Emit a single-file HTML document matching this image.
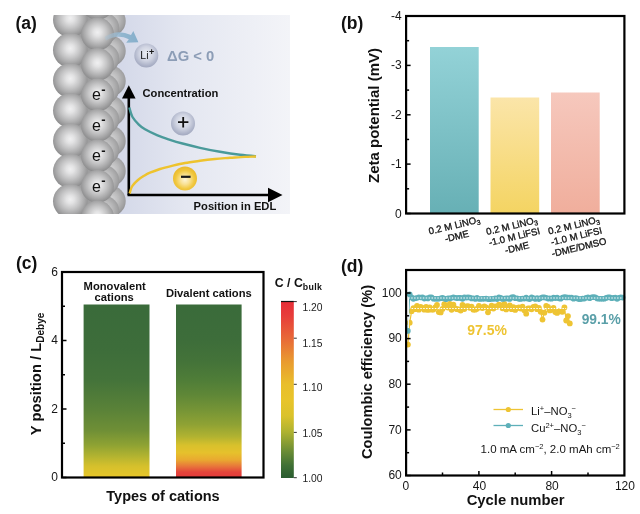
<!DOCTYPE html>
<html lang="en"><head><meta charset="utf-8"><title>Figure</title>
<style>
html,body{margin:0;padding:0;background:#fff;}
body{width:640px;height:514px;overflow:hidden;}
svg{display:block;font-family:"Liberation Sans",sans-serif;filter:blur(0.3px);}
.b{font-weight:bold}
.tk{font-size:12px;fill:#161616}
</style></head><body>
<svg width="640" height="514" viewBox="0 0 640 514">
<defs>
<linearGradient id="bgA" x1="0" y1="0" x2="1" y2="0">
<stop offset="0" stop-color="#cfd4e6"/><stop offset="0.45" stop-color="#e4e7f1"/><stop offset="1" stop-color="#f3f4f8"/>
</linearGradient>
<radialGradient id="sph" cx="0.5" cy="0.45" r="0.58">
<stop offset="0" stop-color="#f0f0f1"/><stop offset="0.2" stop-color="#e3e3e4"/><stop offset="0.48" stop-color="#c5c5c6"/><stop offset="0.72" stop-color="#a8a8a9"/><stop offset="0.88" stop-color="#939394"/><stop offset="1" stop-color="#7e7e7f"/>
</radialGradient>
<radialGradient id="sph2" cx="0.5" cy="0.45" r="0.58">
<stop offset="0" stop-color="#d8d8d9"/><stop offset="0.45" stop-color="#bcbcbd"/><stop offset="0.8" stop-color="#a0a0a1"/><stop offset="1" stop-color="#88888a"/>
</radialGradient>
<linearGradient id="arw" x1="0" y1="0" x2="1" y2="0"><stop offset="0" stop-color="#a9c3d6" stop-opacity="0.35"/><stop offset="0.5" stop-color="#92b6cf"/><stop offset="1" stop-color="#86afcb"/></linearGradient>
<radialGradient id="ion" cx="0.5" cy="0.42" r="0.58">
<stop offset="0" stop-color="#eceef4"/><stop offset="0.5" stop-color="#d0d4e2"/><stop offset="0.85" stop-color="#aeb4c9"/><stop offset="1" stop-color="#a2a8bf"/>
</radialGradient>
<radialGradient id="neg" cx="0.5" cy="0.55" r="0.55">
<stop offset="0" stop-color="#fdf4d6"/><stop offset="0.35" stop-color="#f9e296"/><stop offset="0.7" stop-color="#f1c840"/><stop offset="1" stop-color="#e9b82a"/>
</radialGradient>
<linearGradient id="b1" x1="0" y1="0" x2="0" y2="1"><stop offset="0" stop-color="#93d2d7"/><stop offset="1" stop-color="#67b0b5"/></linearGradient>
<linearGradient id="b2" x1="0" y1="0" x2="0" y2="1"><stop offset="0" stop-color="#fbe5a9"/><stop offset="1" stop-color="#f4d462"/></linearGradient>
<linearGradient id="b3" x1="0" y1="0" x2="0" y2="1"><stop offset="0" stop-color="#f6c8bd"/><stop offset="1" stop-color="#f0ae9c"/></linearGradient>
<linearGradient id="cbar" x1="0" y1="1" x2="0" y2="0">
<stop offset="0" stop-color="#2a5c30"/><stop offset="0.07" stop-color="#3f7035"/><stop offset="0.15" stop-color="#6a8c35"/><stop offset="0.26" stop-color="#aeb230"/><stop offset="0.35" stop-color="#dac22b"/><stop offset="0.44" stop-color="#e8c42a"/><stop offset="0.53" stop-color="#e9be2b"/><stop offset="0.66" stop-color="#e99a30"/><stop offset="0.79" stop-color="#e86838"/><stop offset="0.92" stop-color="#e73c3a"/><stop offset="1" stop-color="#e62e38"/>
</linearGradient>
<linearGradient id="c1" x1="0" y1="0" x2="0" y2="1">
<stop offset="0" stop-color="#3a6b3a"/><stop offset="0.25" stop-color="#3d6d3a"/><stop offset="0.436" stop-color="#44733a"/><stop offset="0.608" stop-color="#5a8238"/><stop offset="0.728" stop-color="#6f8f36"/><stop offset="0.812" stop-color="#8ea233"/><stop offset="0.88" stop-color="#b4b430"/><stop offset="0.934" stop-color="#d5c02c"/><stop offset="1" stop-color="#e8c62a"/>
</linearGradient>
<linearGradient id="c2" x1="0" y1="0" x2="0" y2="1">
<stop offset="0" stop-color="#3a6b3a"/><stop offset="0.2" stop-color="#3d6d3a"/><stop offset="0.33" stop-color="#447339"/><stop offset="0.436" stop-color="#4f7d38"/><stop offset="0.522" stop-color="#5f8737"/><stop offset="0.608" stop-color="#759436"/><stop offset="0.694" stop-color="#8fa234"/><stop offset="0.762" stop-color="#b0b231"/><stop offset="0.814" stop-color="#d8c12c"/><stop offset="0.857" stop-color="#e6c12c"/><stop offset="0.899" stop-color="#e9a830"/><stop offset="0.934" stop-color="#e8783a"/><stop offset="0.968" stop-color="#e4453c"/><stop offset="1" stop-color="#e33a3a"/>
</linearGradient>
</defs>
<rect width="640" height="514" fill="#fff"/>

<g id="pa">
<rect x="100" y="15" width="190" height="199" fill="url(#bgA)"/>
<clipPath id="clipA"><rect x="50" y="15" width="240" height="199"/></clipPath>
<g clip-path="url(#clipA)">
<circle cx="83" cy="-3" r="15.5" fill="#9e9e9f"/>
<circle cx="83" cy="27" r="15.5" fill="#9e9e9f"/>
<circle cx="83" cy="57" r="15.5" fill="#9e9e9f"/>
<circle cx="83" cy="87" r="15.5" fill="#9e9e9f"/>
<circle cx="83" cy="117" r="15.5" fill="#9e9e9f"/>
<circle cx="83" cy="147" r="15.5" fill="#9e9e9f"/>
<circle cx="83" cy="177" r="15.5" fill="#9e9e9f"/>
<circle cx="83" cy="207" r="15.5" fill="#9e9e9f"/>
<circle cx="83" cy="237" r="15.5" fill="#9e9e9f"/>
<circle cx="110.500" cy="-9" r="15.2" fill="url(#sph2)"/>
<circle cx="110.500" cy="21" r="15.2" fill="url(#sph2)"/>
<circle cx="110.500" cy="51" r="15.2" fill="url(#sph2)"/>
<circle cx="110.500" cy="81" r="15.2" fill="url(#sph2)"/>
<circle cx="110.500" cy="111" r="15.2" fill="url(#sph2)"/>
<circle cx="110.500" cy="141" r="15.2" fill="url(#sph2)"/>
<circle cx="110.500" cy="171" r="15.2" fill="url(#sph2)"/>
<circle cx="110.500" cy="201" r="15.2" fill="url(#sph2)"/>
<circle cx="110.500" cy="231" r="15.2" fill="url(#sph2)"/>
<circle cx="104" cy="-2.5" r="15.2" fill="url(#sph2)"/>
<circle cx="104" cy="28.0" r="15.2" fill="url(#sph2)"/>
<circle cx="104" cy="58.5" r="15.2" fill="url(#sph2)"/>
<circle cx="104" cy="89.0" r="15.2" fill="url(#sph2)"/>
<circle cx="104" cy="119.5" r="15.2" fill="url(#sph2)"/>
<circle cx="104" cy="150.0" r="15.2" fill="url(#sph2)"/>
<circle cx="104" cy="180.5" r="15.2" fill="url(#sph2)"/>
<circle cx="104" cy="211.0" r="15.2" fill="url(#sph2)"/>
<circle cx="104" cy="241.5" r="15.2" fill="url(#sph2)"/>
<circle cx="70.300" cy="-10.2" r="17.3" fill="url(#sph)"/>
<circle cx="70.300" cy="20.0" r="17.3" fill="url(#sph)"/>
<circle cx="70.300" cy="50.2" r="17.3" fill="url(#sph)"/>
<circle cx="70.300" cy="80.4" r="17.3" fill="url(#sph)"/>
<circle cx="70.300" cy="110.6" r="17.3" fill="url(#sph)"/>
<circle cx="70.300" cy="140.8" r="17.3" fill="url(#sph)"/>
<circle cx="70.300" cy="171.0" r="17.3" fill="url(#sph)"/>
<circle cx="70.300" cy="201.2" r="17.3" fill="url(#sph)"/>
<circle cx="70.300" cy="231.4" r="17.3" fill="url(#sph)"/>
<circle cx="97.500" cy="3.5" r="16.4" fill="url(#sph)"/>
<circle cx="97.500" cy="34.0" r="16.4" fill="url(#sph)"/>
<circle cx="97.500" cy="64.5" r="16.4" fill="url(#sph)"/>
<circle cx="97.500" cy="95.0" r="16.4" fill="url(#sph)"/>
<circle cx="97.500" cy="125.5" r="16.4" fill="url(#sph)"/>
<circle cx="97.500" cy="156.0" r="16.4" fill="url(#sph)"/>
<circle cx="97.500" cy="186.5" r="16.4" fill="url(#sph)"/>
<circle cx="97.500" cy="217.0" r="16.4" fill="url(#sph)"/>
<circle cx="97.500" cy="247.5" r="16.4" fill="url(#sph)"/>
</g>
<text x="92" y="100" font-size="16" fill="#111">e<tspan dy="-6.500" dx="0.3" font-size="13" class="b">-</tspan></text>
<text x="92" y="130.7" font-size="16" fill="#111">e<tspan dy="-6.500" dx="0.3" font-size="13" class="b">-</tspan></text>
<text x="92" y="161" font-size="16" fill="#111">e<tspan dy="-6.500" dx="0.3" font-size="13" class="b">-</tspan></text>
<text x="92" y="191.5" font-size="16" fill="#111">e<tspan dy="-6.500" dx="0.3" font-size="13" class="b">-</tspan></text>
<path d="M104.500 37 Q117 28.500 131 35 L133.300 31 L138.400 42.300 L126.200 42.800 L128.800 39.200 Q117.500 33.800 106 40.500 Z" fill="url(#arw)"/>
<circle cx="146.300" cy="55.500" r="12" fill="url(#ion)"/>
<text x="140.300" y="59.200" font-size="10.500" fill="#161616">Li<tspan dy="-4" dx="0.5" font-size="9" class="b">+</tspan></text>
<text x="167" y="61" font-size="14.800" class="b" fill="#8c9db6">ΔG &lt; 0</text>
<path d="M128.800 195 V96" stroke="#000" stroke-width="2.6" fill="none"/>
<path d="M122 98.500 L128.800 85.300 L135.600 98.500 Z" fill="#000"/>
<path d="M127.500 195 H270" stroke="#000" stroke-width="2.5" fill="none"/>
<path d="M268 187.700 L282.500 195 L268 202.300 Z" fill="#000"/>
<text x="142.500" y="97" font-size="11.200" class="b" fill="#111">Concentration</text>
<text x="193.600" y="210.300" font-size="11.200" class="b" fill="#111">Position in EDL</text>
<path d="M129.3 107.5 C129.8 109.1 130.9 114.2 132.5 117.0 C134.1 119.8 136.7 122.5 138.8 124.6 C140.8 126.6 141.9 127.5 145.0 129.3 C148.1 131.1 153.3 133.6 157.5 135.3 C161.7 137.1 165.8 138.4 170.0 139.8 C174.2 141.2 177.5 142.2 182.5 143.5 C187.5 144.8 193.8 146.4 200.0 147.8 C206.2 149.2 213.3 150.6 220.0 151.8 C226.7 153.0 234.0 154.1 240.0 154.8 C246.0 155.6 253.3 156.1 256.0 156.3" stroke="#4a9a9a" stroke-width="2.4" fill="none"/>
<path d="M129.6 193.5 C130.0 192.3 130.6 188.8 132.0 186.5 C133.4 184.2 136.0 181.8 138.0 180.0 C140.0 178.2 142.0 177.0 144.0 175.8 C146.0 174.6 147.3 173.8 150.0 172.7 C152.7 171.6 156.3 170.2 160.0 169.0 C163.7 167.8 167.8 166.8 172.0 165.8 C176.2 164.8 180.3 163.8 185.0 163.0 C189.7 162.2 195.0 161.5 200.0 160.8 C205.0 160.1 210.0 159.5 215.0 159.0 C220.0 158.5 225.0 158.2 230.0 157.8 C235.0 157.5 240.7 157.1 245.0 156.9 C249.3 156.7 254.2 156.6 256.0 156.5" stroke="#eec32e" stroke-width="2.4" fill="none"/>
<circle cx="183" cy="123.600" r="12" fill="url(#ion)"/>
<path d="M178 122.200 H188.400 M183.200 117 V127.400" stroke="#111" stroke-width="1.8"/>
<circle cx="185" cy="178.500" r="12" fill="url(#neg)"/>
<path d="M181 176.800 H190.600" stroke="#1a1a1a" stroke-width="2.2"/>
<text x="15.500" y="28.500" font-size="17.500" class="b" fill="#111">(a)</text>
</g>
<g id="pb">
<rect x="430" y="47" width="48.700" height="166.500" fill="url(#b1)"/>
<rect x="490.500" y="97.500" width="48.700" height="116" fill="url(#b2)"/>
<rect x="551" y="92.500" width="48.700" height="121" fill="url(#b3)"/>
<rect x="406.100" y="16" width="218.300" height="197.500" fill="none" stroke="#000" stroke-width="2.2"/>
<path d="M406.600 16 h4" stroke="#000" stroke-width="1.5"/>
<text x="401.600" y="20" text-anchor="end" class="tk">-4</text>
<path d="M406.600 65.4 h4" stroke="#000" stroke-width="1.5"/>
<text x="401.600" y="69.4" text-anchor="end" class="tk">-3</text>
<path d="M406.600 114.8 h4" stroke="#000" stroke-width="1.5"/>
<text x="401.600" y="118.8" text-anchor="end" class="tk">-2</text>
<path d="M406.600 164.1 h4" stroke="#000" stroke-width="1.5"/>
<text x="401.600" y="168.1" text-anchor="end" class="tk">-1</text>
<path d="M406.600 213.5 h4" stroke="#000" stroke-width="1.5"/>
<text x="401.600" y="217.5" text-anchor="end" class="tk">0</text>
<path d="M406.600 40.7 h2.500" stroke="#000" stroke-width="1.5"/>
<path d="M406.600 90.1 h2.500" stroke="#000" stroke-width="1.5"/>
<path d="M406.600 139.45 h2.500" stroke="#000" stroke-width="1.5"/>
<path d="M406.600 188.8 h2.500" stroke="#000" stroke-width="1.5"/>
<text transform="translate(378.500 115.500) rotate(-90)" text-anchor="middle" font-size="15" class="b" fill="#111">Zeta potential (mV)</text>
<g transform="translate(455 228.5) rotate(-13.5)" font-size="9.600" fill="#111" stroke="#111" stroke-width="0.3" text-anchor="middle">
<text x="0" y="0.0">0.2 M LiNO<tspan dy="2" font-size="7">3</tspan></text>
<text x="0" y="11.3">-DME</text>
</g>
<g transform="translate(512.5 229) rotate(-13.5)" font-size="9.600" fill="#111" stroke="#111" stroke-width="0.3" text-anchor="middle">
<text x="0" y="0.0">0.2 M LiNO<tspan dy="2" font-size="7">3</tspan></text>
<text x="0" y="11.3">-1.0 M LiFSI</text>
<text x="0" y="22.6">-DME</text>
</g>
<g transform="translate(574.5 228.5) rotate(-13.5)" font-size="9.600" fill="#111" stroke="#111" stroke-width="0.3" text-anchor="middle">
<text x="0" y="0.0">0.2 M LiNO<tspan dy="2" font-size="7">3</tspan></text>
<text x="0" y="11.3">-1.0 M LiFSI</text>
<text x="0" y="22.6">-DME/DMSO</text>
</g>
<text x="341" y="29.200" font-size="17.500" class="b" fill="#111">(b)</text>
</g>
<g id="pc">
<rect x="83.600" y="304.500" width="65.900" height="173" fill="url(#c1)"/>
<rect x="176" y="304.500" width="65.600" height="173" fill="url(#c2)"/>
<rect x="62" y="272" width="201.500" height="205.500" fill="none" stroke="#000" stroke-width="2.2"/>
<path d="M62.500 272 h4" stroke="#000" stroke-width="1.5"/>
<text x="58" y="275.9" text-anchor="end" class="tk">6</text>
<path d="M62.500 340.5 h4" stroke="#000" stroke-width="1.5"/>
<text x="58" y="344.4" text-anchor="end" class="tk">4</text>
<path d="M62.500 409 h4" stroke="#000" stroke-width="1.5"/>
<text x="58" y="412.9" text-anchor="end" class="tk">2</text>
<path d="M62.500 477.5 h4" stroke="#000" stroke-width="1.5"/>
<text x="58" y="481.4" text-anchor="end" class="tk">0</text>
<path d="M62.500 306.25 h2.500" stroke="#000" stroke-width="1.5"/>
<path d="M62.500 374.75 h2.500" stroke="#000" stroke-width="1.5"/>
<path d="M62.500 443.25 h2.500" stroke="#000" stroke-width="1.5"/>
<text x="114.700" y="289.800" text-anchor="middle" font-size="11.200" class="b" fill="#111">Monovalent</text>
<text x="114.200" y="300.800" text-anchor="middle" font-size="11.200" class="b" fill="#111">cations</text>
<text x="208.800" y="296.500" text-anchor="middle" font-size="11.200" class="b" fill="#111">Divalent cations</text>
<text transform="translate(41 374) rotate(-90)" text-anchor="middle" font-size="14.800" class="b" fill="#111">Y position / L<tspan dy="3" font-size="10">Debye</tspan></text>
<text x="163" y="501" text-anchor="middle" font-size="14.500" class="b" fill="#111">Types of cations</text>
<rect x="281" y="301" width="12.800" height="177" fill="url(#cbar)"/>
<path d="M281 301.500 h12.800" stroke="#111" stroke-width="1.2"/>
<path d="M293.800 477.7 h3" stroke="#333" stroke-width="1"/>
<text x="302.500" y="482.2" font-size="10.300" fill="#222">1.00</text>
<path d="M293.800 432.4 h3" stroke="#333" stroke-width="1"/>
<text x="302.500" y="436.9" font-size="10.300" fill="#222">1.05</text>
<path d="M293.800 384.3 h3" stroke="#333" stroke-width="1"/>
<text x="302.500" y="391.2" font-size="10.300" fill="#222">1.10</text>
<path d="M293.800 338.2 h3" stroke="#333" stroke-width="1"/>
<text x="302.500" y="347.0" font-size="10.300" fill="#222">1.15</text>
<path d="M293.800 301.6 h3" stroke="#333" stroke-width="1"/>
<text x="302.500" y="311.1" font-size="10.300" fill="#222">1.20</text>
<text x="274.800" y="286.500" font-size="12.300" class="b" fill="#111">C / C<tspan dy="3" font-size="8.800" letter-spacing="0.3">bulk</tspan></text>
<text x="16" y="268.800" font-size="17.500" class="b" fill="#111">(c)</text>
</g>
<g id="pd">
<polyline fill="none" stroke="#eec433" stroke-width="1.2" points="407.9,344.6 409.7,322.7 411.6,311.2 413.4,308.1 415.2,309.2 417.0,306.0 418.8,309.7 420.7,306.8 422.5,307.8 424.3,309.7 426.1,306.9 427.9,309.9 429.7,307.4 431.6,309.7 433.4,309.5 435.2,307.5 437.0,304.9 438.8,312.1 440.7,312.4 442.5,308.9 444.3,304.2 446.1,306.5 447.9,307.6 449.8,304.0 451.6,309.8 453.4,304.7 455.2,308.3 457.0,309.2 458.9,309.4 460.7,310.5 462.5,305.0 464.3,309.0 466.1,306.5 468.0,306.1 469.8,307.8 471.6,306.7 473.4,309.7 475.2,309.7 477.0,308.8 478.9,305.9 480.7,307.4 482.5,308.1 484.3,306.4 486.1,307.3 488.0,312.3 489.8,308.3 491.6,305.7 493.4,308.6 495.2,306.5 497.1,306.8 498.9,304.6 500.7,305.5 502.5,308.3 504.3,304.0 506.2,309.4 508.0,307.5 509.8,305.4 511.6,309.2 513.4,307.1 515.2,309.9 517.1,308.0 518.9,307.4 520.7,308.6 522.5,306.7 524.3,310.2 526.2,313.7 528.0,308.4 529.8,308.5 531.6,309.3 533.4,306.9 535.3,306.3 537.1,309.2 538.9,308.0 540.7,311.8 542.5,319.6 544.4,312.7 546.2,306.0 548.0,307.0 549.8,310.4 551.6,309.8 553.5,308.0 555.3,312.0 557.1,312.9 558.9,311.1 560.7,311.4 562.5,311.8 564.4,307.4 566.2,320.5 568.0,316.1 569.8,323.4"/>
<g fill="#eec433">
<circle cx="407.9" cy="344.6" r="2.9"/>
<circle cx="409.7" cy="322.7" r="2.9"/>
<circle cx="411.6" cy="311.2" r="2.9"/>
<circle cx="413.4" cy="308.1" r="2.9"/>
<circle cx="415.2" cy="309.2" r="2.9"/>
<circle cx="417.0" cy="306.0" r="2.9"/>
<circle cx="418.8" cy="309.7" r="2.9"/>
<circle cx="420.7" cy="306.8" r="2.9"/>
<circle cx="422.5" cy="307.8" r="2.9"/>
<circle cx="424.3" cy="309.7" r="2.9"/>
<circle cx="426.1" cy="306.9" r="2.9"/>
<circle cx="427.9" cy="309.9" r="2.9"/>
<circle cx="429.7" cy="307.4" r="2.9"/>
<circle cx="431.6" cy="309.7" r="2.9"/>
<circle cx="433.4" cy="309.5" r="2.9"/>
<circle cx="435.2" cy="307.5" r="2.9"/>
<circle cx="437.0" cy="304.9" r="2.9"/>
<circle cx="438.8" cy="312.1" r="2.9"/>
<circle cx="440.7" cy="312.4" r="2.9"/>
<circle cx="442.5" cy="308.9" r="2.9"/>
<circle cx="444.3" cy="304.2" r="2.9"/>
<circle cx="446.1" cy="306.5" r="2.9"/>
<circle cx="447.9" cy="307.6" r="2.9"/>
<circle cx="449.8" cy="304.0" r="2.9"/>
<circle cx="451.6" cy="309.8" r="2.9"/>
<circle cx="453.4" cy="304.7" r="2.9"/>
<circle cx="455.2" cy="308.3" r="2.9"/>
<circle cx="457.0" cy="309.2" r="2.9"/>
<circle cx="458.9" cy="309.4" r="2.9"/>
<circle cx="460.7" cy="310.5" r="2.9"/>
<circle cx="462.5" cy="305.0" r="2.9"/>
<circle cx="464.3" cy="309.0" r="2.9"/>
<circle cx="466.1" cy="306.5" r="2.9"/>
<circle cx="468.0" cy="306.1" r="2.9"/>
<circle cx="469.8" cy="307.8" r="2.9"/>
<circle cx="471.6" cy="306.7" r="2.9"/>
<circle cx="473.4" cy="309.7" r="2.9"/>
<circle cx="475.2" cy="309.7" r="2.9"/>
<circle cx="477.0" cy="308.8" r="2.9"/>
<circle cx="478.9" cy="305.9" r="2.9"/>
<circle cx="480.7" cy="307.4" r="2.9"/>
<circle cx="482.5" cy="308.1" r="2.9"/>
<circle cx="484.3" cy="306.4" r="2.9"/>
<circle cx="486.1" cy="307.3" r="2.9"/>
<circle cx="488.0" cy="312.3" r="2.9"/>
<circle cx="489.8" cy="308.3" r="2.9"/>
<circle cx="491.6" cy="305.7" r="2.9"/>
<circle cx="493.4" cy="308.6" r="2.9"/>
<circle cx="495.2" cy="306.5" r="2.9"/>
<circle cx="497.1" cy="306.8" r="2.9"/>
<circle cx="498.9" cy="304.6" r="2.9"/>
<circle cx="500.7" cy="305.5" r="2.9"/>
<circle cx="502.5" cy="308.3" r="2.9"/>
<circle cx="504.3" cy="304.0" r="2.9"/>
<circle cx="506.2" cy="309.4" r="2.9"/>
<circle cx="508.0" cy="307.5" r="2.9"/>
<circle cx="509.8" cy="305.4" r="2.9"/>
<circle cx="511.6" cy="309.2" r="2.9"/>
<circle cx="513.4" cy="307.1" r="2.9"/>
<circle cx="515.2" cy="309.9" r="2.9"/>
<circle cx="517.1" cy="308.0" r="2.9"/>
<circle cx="518.9" cy="307.4" r="2.9"/>
<circle cx="520.7" cy="308.6" r="2.9"/>
<circle cx="522.5" cy="306.7" r="2.9"/>
<circle cx="524.3" cy="310.2" r="2.9"/>
<circle cx="526.2" cy="313.7" r="2.9"/>
<circle cx="528.0" cy="308.4" r="2.9"/>
<circle cx="529.8" cy="308.5" r="2.9"/>
<circle cx="531.6" cy="309.3" r="2.9"/>
<circle cx="533.4" cy="306.9" r="2.9"/>
<circle cx="535.3" cy="306.3" r="2.9"/>
<circle cx="537.1" cy="309.2" r="2.9"/>
<circle cx="538.9" cy="308.0" r="2.9"/>
<circle cx="540.7" cy="311.8" r="2.9"/>
<circle cx="542.5" cy="319.6" r="2.9"/>
<circle cx="544.4" cy="312.7" r="2.9"/>
<circle cx="546.2" cy="306.0" r="2.9"/>
<circle cx="548.0" cy="307.0" r="2.9"/>
<circle cx="549.8" cy="310.4" r="2.9"/>
<circle cx="551.6" cy="309.8" r="2.9"/>
<circle cx="553.5" cy="308.0" r="2.9"/>
<circle cx="555.3" cy="312.0" r="2.9"/>
<circle cx="557.1" cy="312.9" r="2.9"/>
<circle cx="558.9" cy="311.1" r="2.9"/>
<circle cx="560.7" cy="311.4" r="2.9"/>
<circle cx="562.5" cy="311.8" r="2.9"/>
<circle cx="564.4" cy="307.4" r="2.9"/>
<circle cx="566.2" cy="320.5" r="2.9"/>
<circle cx="568.0" cy="316.1" r="2.9"/>
<circle cx="569.8" cy="323.4" r="2.9"/>
</g>
<path d="M411.6 308.500 H566.2" stroke="#fff" stroke-width="1" stroke-dasharray="1.5 1.4" fill="none"/>
<polyline fill="none" stroke="#5eb0b9" stroke-width="1.2" points="407.9,330.9 409.7,294.4 411.6,297.4 413.4,299.0 415.2,298.2 417.0,298.0 418.8,297.3 420.7,297.5 422.5,297.4 424.3,298.6 426.1,298.3 427.9,298.4 429.7,297.3 431.6,297.2 433.4,298.8 435.2,298.8 437.0,298.7 438.8,298.7 440.7,298.2 442.5,297.9 444.3,298.6 446.1,299.2 447.9,298.3 449.8,298.4 451.6,298.0 453.4,297.2 455.2,297.7 457.0,298.1 458.9,297.9 460.7,297.8 462.5,299.0 464.3,297.3 466.1,297.6 468.0,297.4 469.8,297.5 471.6,298.4 473.4,298.3 475.2,298.9 477.0,297.9 478.9,299.0 480.7,299.0 482.5,298.7 484.3,298.8 486.1,298.5 488.0,299.1 489.8,299.2 491.6,298.8 493.4,299.0 495.2,298.4 497.1,299.1 498.9,297.4 500.7,297.9 502.5,298.9 504.3,298.6 506.2,298.4 508.0,298.4 509.8,298.9 511.6,297.4 513.4,297.1 515.2,298.2 517.1,298.2 518.9,299.0 520.7,298.9 522.5,298.5 524.3,298.6 526.2,297.5 528.0,298.8 529.8,299.1 531.6,297.2 533.4,298.1 535.3,298.9 537.1,298.0 538.9,299.1 540.7,298.1 542.5,297.2 544.4,297.4 546.2,297.7 548.0,298.6 549.8,298.4 551.6,298.8 553.5,297.6 555.3,298.1 557.1,297.6 558.9,298.5 560.7,298.7 562.5,297.5 564.4,297.1 566.2,297.4 568.0,297.5 569.8,297.5 571.6,297.6 573.5,298.7 575.3,298.1 577.1,298.4 578.9,299.1 580.7,299.1 582.6,298.6 584.4,298.6 586.2,297.7 588.0,297.2 589.8,298.2 591.7,297.2 593.5,297.1 595.3,297.2 597.1,298.4 598.9,298.7 600.8,298.7 602.6,298.8 604.4,298.7 606.2,297.9 608.0,297.3 609.8,297.4 611.7,298.2 613.5,297.8 615.3,297.5 617.1,299.0 618.9,297.8 620.8,297.3 622.6,297.6"/>
<g fill="#5eb0b9">
<circle cx="407.9" cy="330.9" r="2.8"/>
<circle cx="409.7" cy="294.4" r="2.8"/>
<circle cx="411.6" cy="297.4" r="2.8"/>
<circle cx="413.4" cy="299.0" r="2.8"/>
<circle cx="415.2" cy="298.2" r="2.8"/>
<circle cx="417.0" cy="298.0" r="2.8"/>
<circle cx="418.8" cy="297.3" r="2.8"/>
<circle cx="420.7" cy="297.5" r="2.8"/>
<circle cx="422.5" cy="297.4" r="2.8"/>
<circle cx="424.3" cy="298.6" r="2.8"/>
<circle cx="426.1" cy="298.3" r="2.8"/>
<circle cx="427.9" cy="298.4" r="2.8"/>
<circle cx="429.7" cy="297.3" r="2.8"/>
<circle cx="431.6" cy="297.2" r="2.8"/>
<circle cx="433.4" cy="298.8" r="2.8"/>
<circle cx="435.2" cy="298.8" r="2.8"/>
<circle cx="437.0" cy="298.7" r="2.8"/>
<circle cx="438.8" cy="298.7" r="2.8"/>
<circle cx="440.7" cy="298.2" r="2.8"/>
<circle cx="442.5" cy="297.9" r="2.8"/>
<circle cx="444.3" cy="298.6" r="2.8"/>
<circle cx="446.1" cy="299.2" r="2.8"/>
<circle cx="447.9" cy="298.3" r="2.8"/>
<circle cx="449.8" cy="298.4" r="2.8"/>
<circle cx="451.6" cy="298.0" r="2.8"/>
<circle cx="453.4" cy="297.2" r="2.8"/>
<circle cx="455.2" cy="297.7" r="2.8"/>
<circle cx="457.0" cy="298.1" r="2.8"/>
<circle cx="458.9" cy="297.9" r="2.8"/>
<circle cx="460.7" cy="297.8" r="2.8"/>
<circle cx="462.5" cy="299.0" r="2.8"/>
<circle cx="464.3" cy="297.3" r="2.8"/>
<circle cx="466.1" cy="297.6" r="2.8"/>
<circle cx="468.0" cy="297.4" r="2.8"/>
<circle cx="469.8" cy="297.5" r="2.8"/>
<circle cx="471.6" cy="298.4" r="2.8"/>
<circle cx="473.4" cy="298.3" r="2.8"/>
<circle cx="475.2" cy="298.9" r="2.8"/>
<circle cx="477.0" cy="297.9" r="2.8"/>
<circle cx="478.9" cy="299.0" r="2.8"/>
<circle cx="480.7" cy="299.0" r="2.8"/>
<circle cx="482.5" cy="298.7" r="2.8"/>
<circle cx="484.3" cy="298.8" r="2.8"/>
<circle cx="486.1" cy="298.5" r="2.8"/>
<circle cx="488.0" cy="299.1" r="2.8"/>
<circle cx="489.8" cy="299.2" r="2.8"/>
<circle cx="491.6" cy="298.8" r="2.8"/>
<circle cx="493.4" cy="299.0" r="2.8"/>
<circle cx="495.2" cy="298.4" r="2.8"/>
<circle cx="497.1" cy="299.1" r="2.8"/>
<circle cx="498.9" cy="297.4" r="2.8"/>
<circle cx="500.7" cy="297.9" r="2.8"/>
<circle cx="502.5" cy="298.9" r="2.8"/>
<circle cx="504.3" cy="298.6" r="2.8"/>
<circle cx="506.2" cy="298.4" r="2.8"/>
<circle cx="508.0" cy="298.4" r="2.8"/>
<circle cx="509.8" cy="298.9" r="2.8"/>
<circle cx="511.6" cy="297.4" r="2.8"/>
<circle cx="513.4" cy="297.1" r="2.8"/>
<circle cx="515.2" cy="298.2" r="2.8"/>
<circle cx="517.1" cy="298.2" r="2.8"/>
<circle cx="518.9" cy="299.0" r="2.8"/>
<circle cx="520.7" cy="298.9" r="2.8"/>
<circle cx="522.5" cy="298.5" r="2.8"/>
<circle cx="524.3" cy="298.6" r="2.8"/>
<circle cx="526.2" cy="297.5" r="2.8"/>
<circle cx="528.0" cy="298.8" r="2.8"/>
<circle cx="529.8" cy="299.1" r="2.8"/>
<circle cx="531.6" cy="297.2" r="2.8"/>
<circle cx="533.4" cy="298.1" r="2.8"/>
<circle cx="535.3" cy="298.9" r="2.8"/>
<circle cx="537.1" cy="298.0" r="2.8"/>
<circle cx="538.9" cy="299.1" r="2.8"/>
<circle cx="540.7" cy="298.1" r="2.8"/>
<circle cx="542.5" cy="297.2" r="2.8"/>
<circle cx="544.4" cy="297.4" r="2.8"/>
<circle cx="546.2" cy="297.7" r="2.8"/>
<circle cx="548.0" cy="298.6" r="2.8"/>
<circle cx="549.8" cy="298.4" r="2.8"/>
<circle cx="551.6" cy="298.8" r="2.8"/>
<circle cx="553.5" cy="297.6" r="2.8"/>
<circle cx="555.3" cy="298.1" r="2.8"/>
<circle cx="557.1" cy="297.6" r="2.8"/>
<circle cx="558.9" cy="298.5" r="2.8"/>
<circle cx="560.7" cy="298.7" r="2.8"/>
<circle cx="562.5" cy="297.5" r="2.8"/>
<circle cx="564.4" cy="297.1" r="2.8"/>
<circle cx="566.2" cy="297.4" r="2.8"/>
<circle cx="568.0" cy="297.5" r="2.8"/>
<circle cx="569.8" cy="297.5" r="2.8"/>
<circle cx="571.6" cy="297.6" r="2.8"/>
<circle cx="573.5" cy="298.7" r="2.8"/>
<circle cx="575.3" cy="298.1" r="2.8"/>
<circle cx="577.1" cy="298.4" r="2.8"/>
<circle cx="578.9" cy="299.1" r="2.8"/>
<circle cx="580.7" cy="299.1" r="2.8"/>
<circle cx="582.6" cy="298.6" r="2.8"/>
<circle cx="584.4" cy="298.6" r="2.8"/>
<circle cx="586.2" cy="297.7" r="2.8"/>
<circle cx="588.0" cy="297.2" r="2.8"/>
<circle cx="589.8" cy="298.2" r="2.8"/>
<circle cx="591.7" cy="297.2" r="2.8"/>
<circle cx="593.5" cy="297.1" r="2.8"/>
<circle cx="595.3" cy="297.2" r="2.8"/>
<circle cx="597.1" cy="298.4" r="2.8"/>
<circle cx="598.9" cy="298.7" r="2.8"/>
<circle cx="600.8" cy="298.7" r="2.8"/>
<circle cx="602.6" cy="298.8" r="2.8"/>
<circle cx="604.4" cy="298.7" r="2.8"/>
<circle cx="606.2" cy="297.9" r="2.8"/>
<circle cx="608.0" cy="297.3" r="2.8"/>
<circle cx="609.8" cy="297.4" r="2.8"/>
<circle cx="611.7" cy="298.2" r="2.8"/>
<circle cx="613.5" cy="297.8" r="2.8"/>
<circle cx="615.3" cy="297.5" r="2.8"/>
<circle cx="617.1" cy="299.0" r="2.8"/>
<circle cx="618.9" cy="297.8" r="2.8"/>
<circle cx="620.8" cy="297.3" r="2.8"/>
<circle cx="622.6" cy="297.6" r="2.8"/>
</g>
<path d="M408.3 298 H623.1" stroke="#fff" stroke-width="1" stroke-dasharray="1.5 1.4" fill="none"/>
<path d="M408.5 299 V328" stroke="#fff" stroke-width="0.9" fill="none"/>
<rect x="406.100" y="270" width="218.300" height="205.500" fill="none" stroke="#000" stroke-width="2.2"/>
<path d="M406.600 475.5 h4" stroke="#000" stroke-width="1.5"/>
<text x="401.800" y="479.1" text-anchor="end" class="tk">60</text>
<path d="M406.600 429.9 h4" stroke="#000" stroke-width="1.5"/>
<text x="401.800" y="433.7" text-anchor="end" class="tk">70</text>
<path d="M406.600 384.2 h4" stroke="#000" stroke-width="1.5"/>
<text x="401.800" y="388.1" text-anchor="end" class="tk">80</text>
<path d="M406.600 338.6 h4" stroke="#000" stroke-width="1.5"/>
<text x="401.800" y="342.4" text-anchor="end" class="tk">90</text>
<path d="M406.600 293.0 h4" stroke="#000" stroke-width="1.5"/>
<text x="401.800" y="296.8" text-anchor="end" class="tk">100</text>
<path d="M406.600 452.7 h2.500" stroke="#000" stroke-width="1.5"/>
<path d="M406.600 407.1 h2.500" stroke="#000" stroke-width="1.5"/>
<path d="M406.600 361.4 h2.500" stroke="#000" stroke-width="1.5"/>
<path d="M406.600 315.8 h2.500" stroke="#000" stroke-width="1.5"/>
<text x="405.8" y="489.800" text-anchor="middle" class="tk">0</text>
<path d="M478.9 475 v-4" stroke="#000" stroke-width="1.5"/>
<text x="479.4" y="489.800" text-anchor="middle" class="tk">40</text>
<path d="M551.6 475 v-4" stroke="#000" stroke-width="1.5"/>
<text x="552.1" y="489.800" text-anchor="middle" class="tk">80</text>
<text x="624.9" y="489.800" text-anchor="middle" class="tk">120</text>
<path d="M442.5 475 v-2.500" stroke="#000" stroke-width="1.5"/>
<path d="M515.2 475 v-2.500" stroke="#000" stroke-width="1.5"/>
<path d="M588.0 475 v-2.500" stroke="#000" stroke-width="1.5"/>
<text transform="translate(372 372) rotate(-90)" text-anchor="middle" font-size="14.650" class="b" fill="#111">Coulombic efficiency (%)</text>
<text x="515.600" y="505" text-anchor="middle" font-size="14.800" class="b" fill="#111">Cycle number</text>
<text x="467.300" y="334.700" font-size="14" class="b" fill="#eec433">97.5%</text>
<text x="581.700" y="324" font-size="13.800" class="b" fill="#5a9fa8">99.1%</text>
<path d="M493.500 409.500 h29.500" stroke="#eec433" stroke-width="1.3"/><circle cx="508.300" cy="409.500" r="2.6" fill="#eec433"/>
<path d="M493.500 425.500 h29.500" stroke="#5eb0b9" stroke-width="1.3"/><circle cx="508.300" cy="425.500" r="2.6" fill="#5eb0b9"/>
<text x="531" y="415" font-size="11.300" fill="#161616">Li<tspan dy="-4.500" font-size="7.500">+</tspan><tspan dy="4.500">–NO</tspan><tspan dy="3" font-size="7.500">3</tspan><tspan dy="-7.500" font-size="7.500">−</tspan></text>
<text x="531" y="432" font-size="11.300" fill="#161616">Cu<tspan dy="-4.500" font-size="7.500">2+</tspan><tspan dy="4.500">–NO</tspan><tspan dy="3" font-size="7.500">3</tspan><tspan dy="-7.500" font-size="7.500">−</tspan></text>
<text x="480.600" y="453.300" font-size="11.500" fill="#161616">1.0 mA cm<tspan dy="-4.500" font-size="7.500">−2</tspan><tspan dy="4.500">, 2.0 mAh cm</tspan><tspan dy="-4.500" font-size="7.500">−2</tspan></text>
<text x="341" y="271.500" font-size="17.500" class="b" fill="#111">(d)</text>
</g>
</svg></body></html>
